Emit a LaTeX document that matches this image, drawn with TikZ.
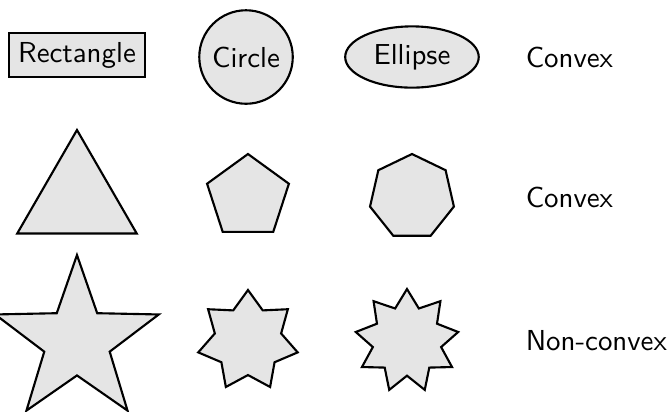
\documentclass[tikz,border=0pt]{standalone}
\usepackage{tikz}
\usetikzlibrary{shapes.geometric,positioning}

\begin{document}
\begin{tikzpicture}[
  figure/.style={draw, thick, fill=gray!20, font=\sffamily\fontsize{10.9}{13}\selectfont},
  poly/.style={figure, regular polygon, regular polygon sides=#1},
  starry/.style={figure, star, star points=#1},
  rowlabel/.style={anchor=west, font=\sffamily\fontsize{10.9}{13}\selectfont}
]
  \useasboundingbox (0,0) rectangle (8.873,-5.464);

  % first row: shapes around text
  \node[figure, rectangle] (rect) at (1.021,-0.73) {Rectangle};
  \node[figure, circle] (circ) at (3.263,-0.756) {Circle};
  \node[figure, ellipse] (ell) at (5.464,-0.756) {Ellipse};
  \node[rowlabel] (lab1) at (6.849,-0.756) {Convex};

  % second row: regular polygons
  \node[poly=3, minimum size=1.83cm] (tri) at (1.021,-2.639) {};
  \node[poly=5, minimum size=1.141cm] (pent) at (3.289,-2.613) {};
  \node[poly=7, minimum size=1.141cm] (hept) at (5.464,-2.613) {};
  \node[rowlabel] (lab2) at (6.849,-2.613) {Convex};

  % third row: stars
  \node[starry=5, star point ratio=2.5, minimum size=2.281cm] (st5) at (1.021,-4.523) {};
  \node[starry=7, minimum size=1.353cm] (st7) at (3.289,-4.523) {};
  \node[starry=9, minimum size=1.379cm] (st9) at (5.398,-4.523) {};
  \node[rowlabel] (lab3) at (6.849,-4.523) {Non-convex};
\end{tikzpicture}
\end{document}
